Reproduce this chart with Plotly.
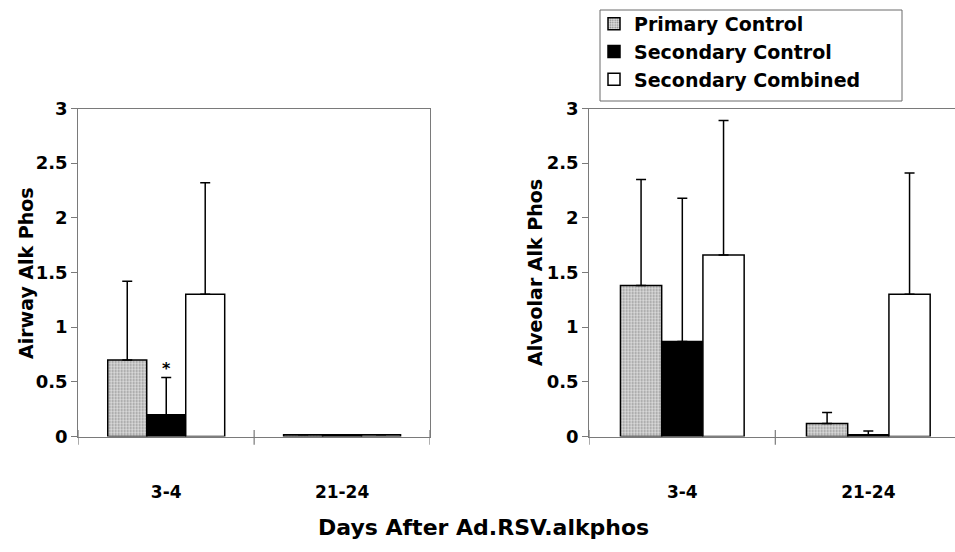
import plotly.graph_objects as go

W, H = 955, 552

categories = ["3-4", "21-24"]
series_names = ["Primary Control", "Secondary Control", "Secondary Combined"]

# Airway (left panel): means and upper error-bar ends
airway_primary = [0.70, 0.015]
airway_secondary = [0.20, 0.015]
airway_combined = [1.30, 0.015]
airway_primary_top = [1.42, None]
airway_secondary_top = [0.54, None]
airway_combined_top = [2.32, None]

# Alveolar (right panel)
alveolar_primary = [1.38, 0.12]
alveolar_secondary = [0.87, 0.015]
alveolar_combined = [1.66, 1.30]
alveolar_primary_top = [2.35, 0.22]
alveolar_secondary_top = [2.18, 0.05]
alveolar_combined_top = [2.89, 2.41]

y_ticks = [0, 0.5, 1, 1.5, 2, 2.5, 3]
y_ticktext = ["0", "0.5", "1", "1.5", "2", "2.5", "3"]

FONT = "DejaVu Sans"

def px_x(p):
    return p / W

def px_y(p):
    return (H - p) / H

styles = [
    dict(color="#d4d4d4", pattern=dict(shape=".", fgcolor="#8a8a8a", bgcolor="#dedede",
                                       size=3, solidity=0.35, fillmode="replace")),
    dict(color="#000000"),
    dict(color="#ffffff"),
]

def err(vals, tops):
    out = []
    for v, t in zip(vals, tops):
        out.append(None if t is None else t - v)
    return out

fig = go.Figure()

left_sets = [(airway_primary, airway_primary_top), (airway_secondary, airway_secondary_top),
             (airway_combined, airway_combined_top)]
right_sets = [(alveolar_primary, alveolar_primary_top), (alveolar_secondary, alveolar_secondary_top),
              (alveolar_combined, alveolar_combined_top)]

for i, (vals, tops) in enumerate(left_sets):
    fig.add_trace(go.Bar(
        x=categories, y=vals, name=series_names[i], xaxis="x", yaxis="y",
        marker=dict(line=dict(color="black", width=1.5), **styles[i]),
        error_y=dict(type="data", symmetric=False, array=err(vals, tops),
                     arrayminus=[0] * len(vals), color="black", thickness=1.5, width=5),
        offsetgroup=str(i), showlegend=True, legendgroup=str(i),
    ))
for i, (vals, tops) in enumerate(right_sets):
    fig.add_trace(go.Bar(
        x=categories, y=vals, name=series_names[i], xaxis="x2", yaxis="y2",
        marker=dict(line=dict(color="black", width=1.5), **styles[i]),
        error_y=dict(type="data", symmetric=False, array=err(vals, tops),
                     arrayminus=[0] * len(vals), color="black", thickness=1.5, width=5),
        offsetgroup=str(i), showlegend=False, legendgroup=str(i),
    ))

y_bottom = px_y(436.5)
y_top = px_y(108.5)

axis_common = dict(showline=True, linecolor="#7a7a7a", linewidth=1.2, mirror=True,
                   showgrid=False, zeroline=False, automargin=False)

ytickfont = dict(family=FONT, size=18, color="black", weight="bold")
xtickfont = dict(family=FONT, size=17, color="black", weight="bold")

fig.update_layout(
    width=W, height=H,
    margin=dict(l=0, r=0, t=0, b=0, autoexpand=False),
    paper_bgcolor="white", plot_bgcolor="white",
    barmode="group", bargap=0.335, bargroupgap=0,
    xaxis=dict(domain=[px_x(78.3), px_x(430)], type="category", range=[-0.5, 1.5],
               ticks="", tickfont=xtickfont, ticklabelstandoff=40, anchor="y", **axis_common),
    yaxis=dict(domain=[y_bottom, y_top], range=[0, 3], tickvals=y_ticks, ticktext=y_ticktext,
               ticks="outside", ticklen=6, tickcolor="#7a7a7a", tickfont=ytickfont,
               anchor="x", **axis_common),
    xaxis2=dict(domain=[px_x(589.3), 1.0], type="category", range=[-0.5, 1.466],
                ticks="", tickfont=xtickfont, ticklabelstandoff=40, anchor="y2", **axis_common),
    yaxis2=dict(domain=[y_bottom, y_top], range=[0, 3], tickvals=y_ticks, ticktext=y_ticktext,
                ticks="outside", ticklen=6, tickcolor="#7a7a7a", tickfont=ytickfont,
                anchor="x2", **axis_common),
    legend=dict(x=px_x(594), y=px_y(5), xanchor="left", yanchor="top",
                borderwidth=0, bgcolor="rgba(0,0,0,0)",
                font=dict(family=FONT, size=19, color="black", weight="bold"),
                itemwidth=30, traceorder="normal"),
    showlegend=True,
)

# legend frame
fig.add_shape(type="rect", xref="paper", yref="paper",
              x0=px_x(600), x1=px_x(902), y0=px_y(101), y1=px_y(10),
              line=dict(color="#6a6a6a", width=1), fillcolor="rgba(0,0,0,0)", layer="below")

# crossing tick marks at category boundaries
for xa, ya in (("x", "y"), ("x2", "y2")):
    for xb in (-0.5, 0.5, 1.5):
        fig.add_shape(type="line", xref=xa, yref=ya + " domain", x0=xb, x1=xb,
                      y0=-0.025, y1=0.02, line=dict(color="#7a7a7a", width=1.2))

# axis titles and annotations
fig.add_annotation(x=px_x(26), y=px_y(273), xref="paper", yref="paper", text="Airway Alk Phos",
                   textangle=-90, showarrow=False, xanchor="center", yanchor="middle",
                   font=dict(family=FONT, size=19, color="black", weight="bold"))
fig.add_annotation(x=px_x(535), y=px_y(273), xref="paper", yref="paper", text="Alveolar Alk Phos",
                   textangle=-90, showarrow=False, xanchor="center", yanchor="middle",
                   font=dict(family=FONT, size=19, color="black", weight="bold"))
fig.add_annotation(x=px_x(483), y=px_y(527), xref="paper", yref="paper",
                   text="Days After Ad.RSV.alkphos", showarrow=False,
                   xanchor="center", yanchor="middle",
                   font=dict(family=FONT, size=22, color="black", weight="bold"))
fig.add_annotation(x="3-4", y=airway_secondary_top[0], xref="x", yref="y", text="*",
                   showarrow=False, yanchor="bottom", yshift=-3,
                   font=dict(family=FONT, size=16, color="black", weight="bold"))

fig.write_html("out.html")
